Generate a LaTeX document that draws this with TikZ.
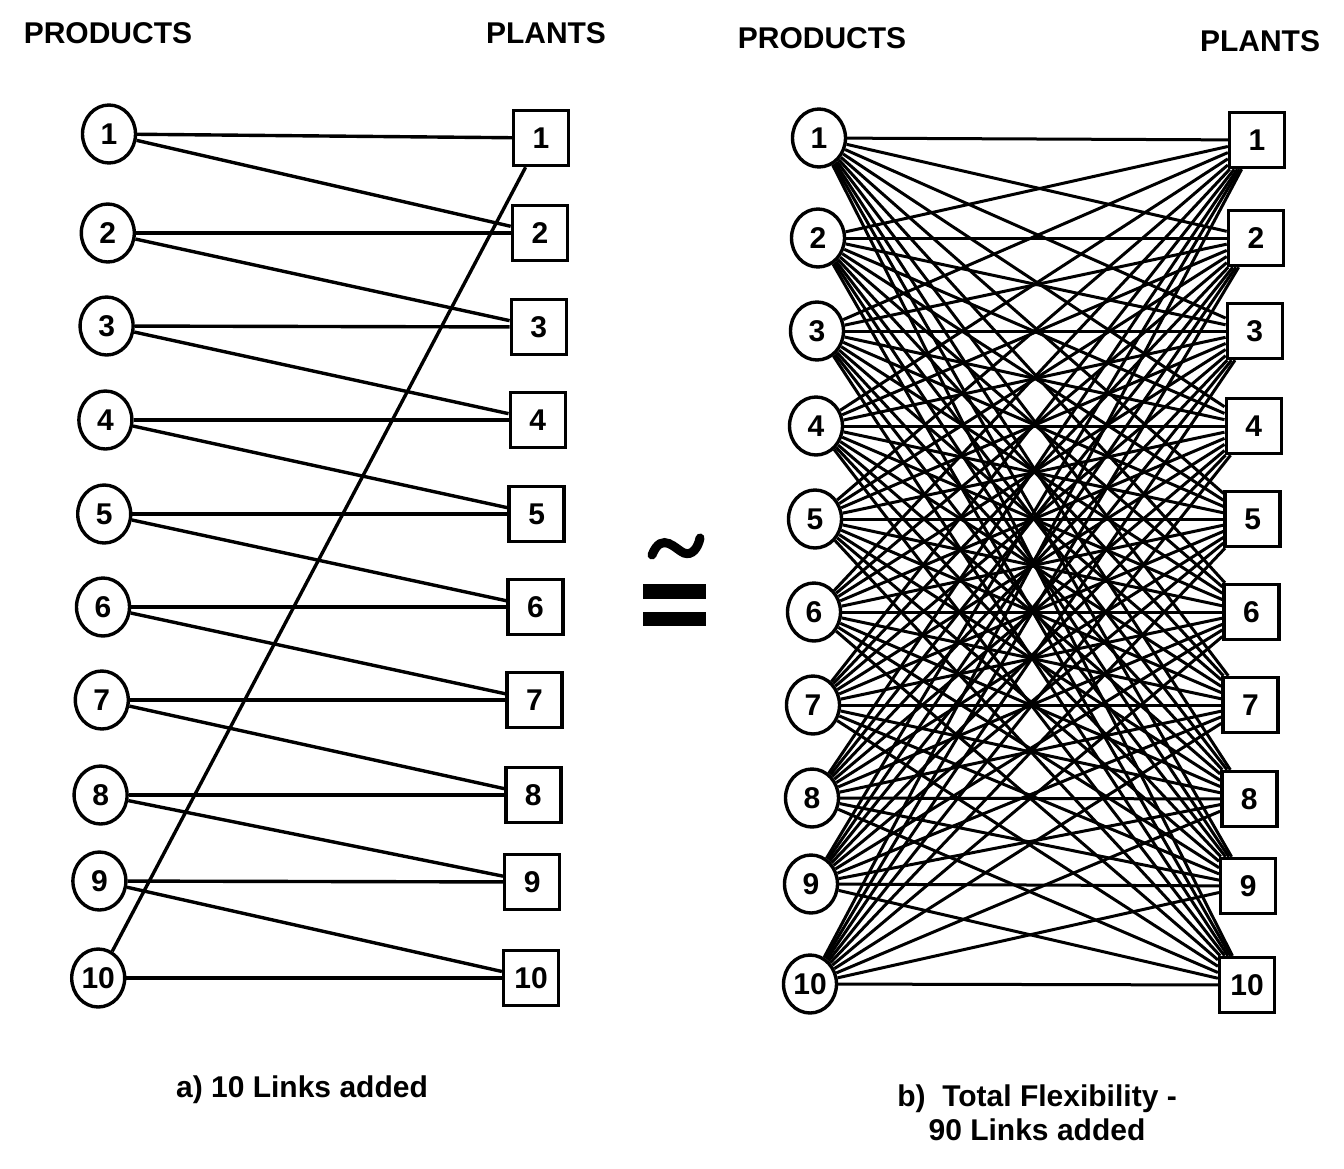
\documentclass[tikz,border=0pt]{standalone}
\usepackage{fontspec}
\setmainfont{Liberation Sans}
\usetikzlibrary{positioning,shapes.geometric}

\begin{document}
\begin{tikzpicture}
		[x=1pt,y=-1pt,line width=3.4pt,
		every node/.style={font=\fontsize{30}{32}\selectfont\bfseries},
		prod/.style={ellipse,draw,line width=3.4pt,minimum width=53pt,minimum height=58pt,inner sep=0pt},
		plant/.style={rectangle,draw,line width=3.4pt,minimum width=55pt,minimum height=55pt,inner sep=0pt},
		head/.style={font=\fontsize{30}{34}\selectfont\bfseries}]
		\useasboundingbox (0,0) rectangle (1344,1168);
		
		% a) 10 links added
		\node[head] (t1) at (108,33) {PRODUCTS};
		\node[head] (t2) at (546,33) {PLANTS};
		\foreach \i/\y in {1/134,2/233,3/326,4/420,5/514,6/607,7/700,8/795,9/881,10/978}
		\node[prod] (p\i) at ({109-1.2*(\i-1)},\y) {\i};
		\foreach \i/\y in {1/138,2/233,3/327,4/420,5/514,6/607,7/700,8/795,9/882,10/978}
		\node[plant] (q\i) at ({541-1.1*(\i-1)},\y) {\i};
		\foreach \from/\to in 
		{p1/q1,p1/q2,p2/q2,p2/q3,p3/q3,p3/q4,p4/q4,p4/q5,p5/q5,p5/q6,
		 p6/q6,p6/q7,p7/q7,p7/q8,p8/q8,p8/q9,p9/q9,p9/q10,p10/q10,p10/q1}
		\draw (\from) -- (\to);
		\node[head] (c1) at (302,1090) {a) 10 Links added};
		
		% approximately equal
		\draw[line width=9pt,line cap=round] (652,555) .. controls (662,530) and (676,550) .. (684,553)
		  .. controls (692,556) and (698,548) .. (700,538);
		\fill (643,584) rectangle (706,599);
		\fill (643,612) rectangle (706,626);
		
		% b) total flexibility
		\node[head] (t3) at (822,38) {PRODUCTS};
		\node[head] (t4) at (1260,41) {PLANTS};
		\foreach \i/\y in {1/138,2/238,3/331,4/426,5/519,6/612,7/705,8/798,9/884,10/984}
		\node[prod] (r\i) at ({819-1*(\i-1)},\y) {\i};
		\foreach \i/\y in {1/140,2/238,3/331,4/426,5/519,6/612,7/705,8/799,9/886,10/985}
		\node[plant] (s\i) at ({1257-1.1*(\i-1)},\y) {\i};
		\foreach \a in {1,...,10}
		\foreach \b in {1,...,10}
		\draw[line width=3pt] (r\a) -- (s\b);
		\node[head,align=center] (c2) at (1037,1113) {b)\ \ Total Flexibility -\\90 Links added};
\end{tikzpicture}
\end{document}
